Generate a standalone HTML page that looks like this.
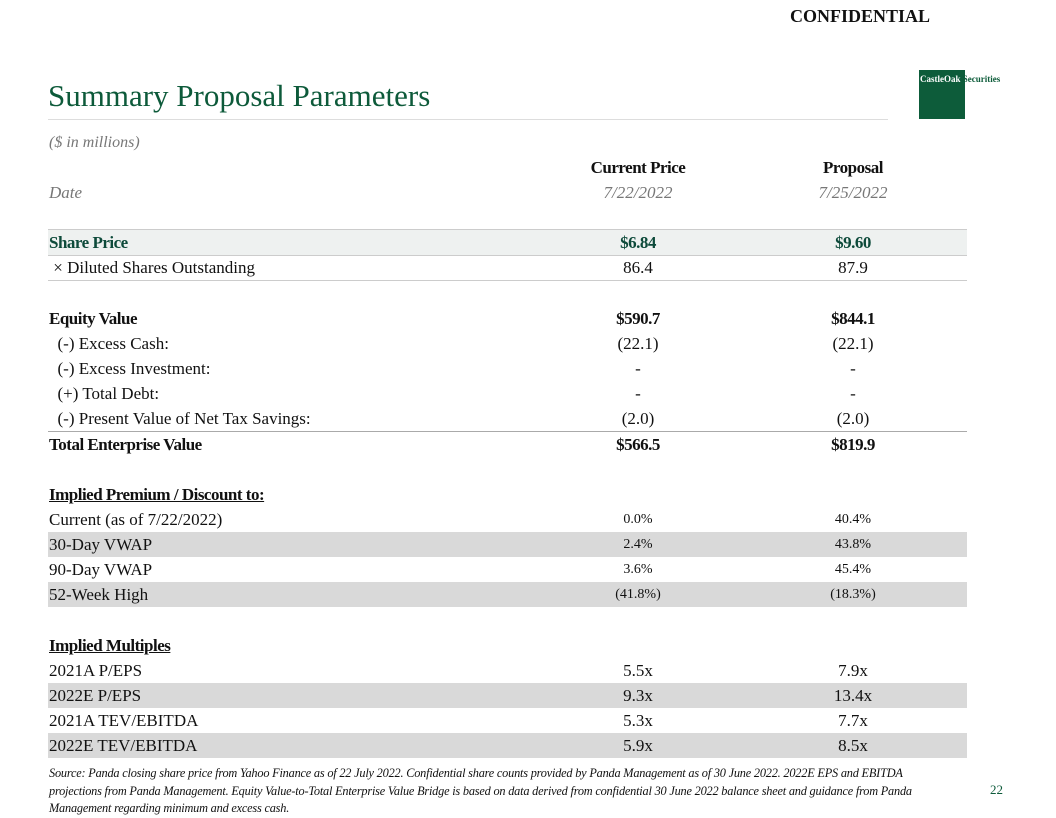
<!DOCTYPE html>
<html><head><meta charset="utf-8">
<style>
body{margin:0;width:1056px;height:816px;position:relative;background:#fff;font-family:"Liberation Serif",serif;color:#111;overflow:hidden}
.a{position:absolute}
.row{position:absolute;left:48px;width:919px;height:25px;line-height:25px;font-size:17px}
.row .l{position:absolute;left:1px;white-space:nowrap}
.row .c{position:absolute;left:510px;width:160px;text-align:center}
.row .p{position:absolute;left:725px;width:160px;text-align:center}
.sm .c,.sm .p{font-size:14px}
.band{background:#d9d9d9}
.b{font-weight:bold;letter-spacing:-0.5px}
.u{text-decoration:underline}
</style></head><body>
<div class="a" style="left:790px;top:6px;font-size:18px;font-weight:bold">CONFIDENTIAL</div>
<div class="a" style="left:48px;top:78px;font-size:31px;color:#0d5a3a">Summary Proposal Parameters</div>
<div class="a" style="left:48px;top:119px;width:840px;height:1px;background:#ddd"></div>
<div class="a" style="left:919px;top:70px;width:46px;height:49px;background:#0d5c3a"></div>
<div class="a" style="left:920px;top:74px;font-size:9px;font-weight:bold;white-space:nowrap"><span style="color:#fff">CastleOak</span><span style="color:#0d5c3a"> Securities</span></div>
<div class="a" style="left:49px;top:134px;font-size:16px;font-style:italic;color:#777">($ in millions)</div>
<div class="row" style="top:155px"><span class="c b">Current Price</span><span class="p b">Proposal</span></div>
<div class="row" style="top:180px;color:#777;font-style:italic"><span class="l">Date</span><span class="c">7/22/2022</span><span class="p">7/25/2022</span></div>
<div class="row" style="top:229px;background:#eef1f0;border-top:1px solid #ccc;border-bottom:1px solid #ccc;color:#0d4a3a"><span class="l b">Share Price</span><span class="c b">$6.84</span><span class="p b">$9.60</span></div>
<div class="row" style="top:255px;border-bottom:1px solid #ccc"><span class="l">&nbsp;× Diluted Shares Outstanding</span><span class="c">86.4</span><span class="p">87.9</span></div>
<div class="row" style="top:306px"><span class="l b">Equity Value</span><span class="c b">$590.7</span><span class="p b">$844.1</span></div>
<div class="row" style="top:331px"><span class="l">&nbsp;&nbsp;(-) Excess Cash:</span><span class="c">(22.1)</span><span class="p">(22.1)</span></div>
<div class="row" style="top:356px"><span class="l">&nbsp;&nbsp;(-) Excess Investment:</span><span class="c">-</span><span class="p">-</span></div>
<div class="row" style="top:381px"><span class="l">&nbsp;&nbsp;(+) Total Debt:</span><span class="c">-</span><span class="p">-</span></div>
<div class="row" style="top:406px;border-bottom:1px solid #aaa"><span class="l">&nbsp;&nbsp;(-) Present Value of Net Tax Savings:</span><span class="c">(2.0)</span><span class="p">(2.0)</span></div>
<div class="row" style="top:432px"><span class="l b">Total Enterprise Value</span><span class="c b">$566.5</span><span class="p b">$819.9</span></div>
<div class="row" style="top:482px"><span class="l b u">Implied Premium / Discount to:</span></div>
<div class="row sm" style="top:507px"><span class="l">Current (as of 7/22/2022)</span><span class="c">0.0%</span><span class="p">40.4%</span></div>
<div class="row sm band" style="top:532px"><span class="l">30-Day VWAP</span><span class="c">2.4%</span><span class="p">43.8%</span></div>
<div class="row sm" style="top:557px"><span class="l">90-Day VWAP</span><span class="c">3.6%</span><span class="p">45.4%</span></div>
<div class="row sm band" style="top:582px"><span class="l">52-Week High</span><span class="c">(41.8%)</span><span class="p">(18.3%)</span></div>
<div class="row" style="top:633px"><span class="l b u">Implied Multiples</span></div>
<div class="row" style="top:658px"><span class="l">2021A P/EPS</span><span class="c">5.5x</span><span class="p">7.9x</span></div>
<div class="row band" style="top:683px"><span class="l">2022E P/EPS</span><span class="c">9.3x</span><span class="p">13.4x</span></div>
<div class="row" style="top:708px"><span class="l">2021A TEV/EBITDA</span><span class="c">5.3x</span><span class="p">7.7x</span></div>
<div class="row band" style="top:733px"><span class="l">2022E TEV/EBITDA</span><span class="c">5.9x</span><span class="p">8.5x</span></div>
<div class="a" style="left:49px;top:765px;width:895px;font-size:12.3px;font-style:italic;line-height:17.5px;letter-spacing:-0.2px">Source: Panda closing share price from Yahoo Finance as of 22 July 2022. Confidential share counts provided by Panda Management as of 30 June 2022. 2022E EPS and EBITDA projections from Panda Management. Equity Value-to-Total Enterprise Value Bridge is based on data derived from confidential 30 June 2022 balance sheet and guidance from Panda Management regarding minimum and excess cash.</div>
<div class="a" style="left:990px;top:782px;font-size:13px;color:#0d5a3a">22</div>
</body></html>
